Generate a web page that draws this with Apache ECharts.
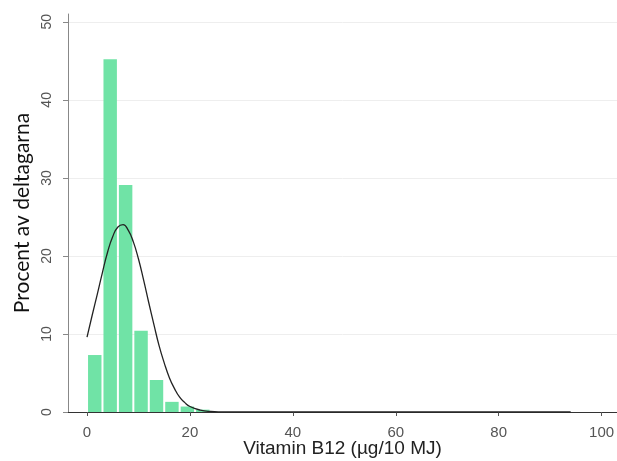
<!DOCTYPE html>
<html>
<head>
<meta charset="utf-8">
<script src="https://cdn.jsdelivr.net/npm/echarts@6/dist/echarts.min.js"></script>
<style>
  html, body { margin: 0; padding: 0; background: #fff; }
  #chart { width: 617px; height: 461px; }
</style>
</head>
<body>
<div id="chart"></div>
<script>
// histogram bins (start, end) and percent per bin
const binStarts = [0, 3, 6, 9, 12, 15, 18, 21];
const binEnds = [3, 6, 9, 12, 15, 18, 21, 24];
const binPercent = [7.3, 45.2, 29.1, 10.4, 4.1, 1.3, 0.7, 0.3];

// fitted normal curve
const curveX = [0, 1, 2, 3, 4, 5, 6, 7, 8, 9, 10, 11, 12, 13, 14, 15, 16, 17, 18, 19, 20, 22, 24, 26, 30, 40, 60, 80, 94];
const curveY = [9.6, 12.4, 15.1, 17.9, 20.5, 22.5, 23.7, 24.0, 23.3, 21.8, 19.6, 16.9, 14.0, 11.2, 8.5, 6.3, 4.4, 3.0, 1.9, 1.2, 0.7, 0.25, 0.07, 0.02, 0, 0, 0, 0, 0];

const xTicks = [0, 20, 40, 60, 80, 100];
const yTicks = [0, 10, 20, 30, 40, 50];

const chart = echarts.init(document.getElementById('chart'), null, {renderer: 'canvas'});

const option = {
    animation: false,
    backgroundColor: '#fff',
    grid: {left: 68, right: 0, top: 14, bottom: 49, outerBoundsMode: 'none', containLabel: false},
    xAxis: {
        type: 'value',
        min: -3.7,
        max: 103,
        name: 'Vitamin B12 (µg/10 MJ)',
        nameLocation: 'middle',
        nameGap: 27,
        nameMoveOverlap: false,
        nameTextStyle: {fontFamily: 'Liberation Sans', fontSize: 19, color: '#222'},
        axisLine: {onZero: false, lineStyle: {color: '#333', width: 1.2}},
        axisTick: {show: true, length: 4, customValues: xTicks, lineStyle: {color: '#555'}},
        axisLabel: {customValues: xTicks, margin: 13, fontFamily: 'Liberation Sans', fontSize: 15, color: '#555'},
        splitLine: {show: false}
    },
    yAxis: {
        type: 'value',
        min: 0,
        max: 51,
        name: 'Procent av deltagarna',
        nameLocation: 'middle',
        nameGap: 35,
        nameMoveOverlap: false,
        nameTextStyle: {fontFamily: 'Lato', fontSize: 21, color: '#111'},
        axisLine: {show: true, onZero: false, lineStyle: {color: '#888', width: 1}},
        axisTick: {show: true, length: 5, customValues: yTicks, lineStyle: {color: '#888'}},
        axisLabel: {customValues: yTicks, rotate: 90, margin: 14, fontFamily: 'Liberation Sans', fontSize: 14, color: '#555'},
        splitLine: {show: true, lineStyle: {color: '#eeeeee', width: 1}}
    },
    series: [
        {
            type: 'custom',
            data: binStarts.map((s, i) => [s, binEnds[i], binPercent[i]]),
            renderItem: function (params, api) {
                const p0 = api.coord([api.value(0), 0]);
                const p1 = api.coord([api.value(1), api.value(2)]);
                return {
                    type: 'rect',
                    shape: {x: p0[0] + 1, y: p1[1], width: p1[0] - p0[0] - 2, height: p0[1] - p1[1]},
                    style: {fill: '#70e3a6'}
                };
            },
            encode: {x: [0, 1], y: 2},
            z: 2
        },
        {
            type: 'line',
            data: curveX.map((x, i) => [x, curveY[i]]),
            smooth: true,
            showSymbol: false,
            lineStyle: {color: '#222', width: 1.3},
            z: 3
        }
    ]
};

chart.setOption(option);
</script>
</body>
</html>
